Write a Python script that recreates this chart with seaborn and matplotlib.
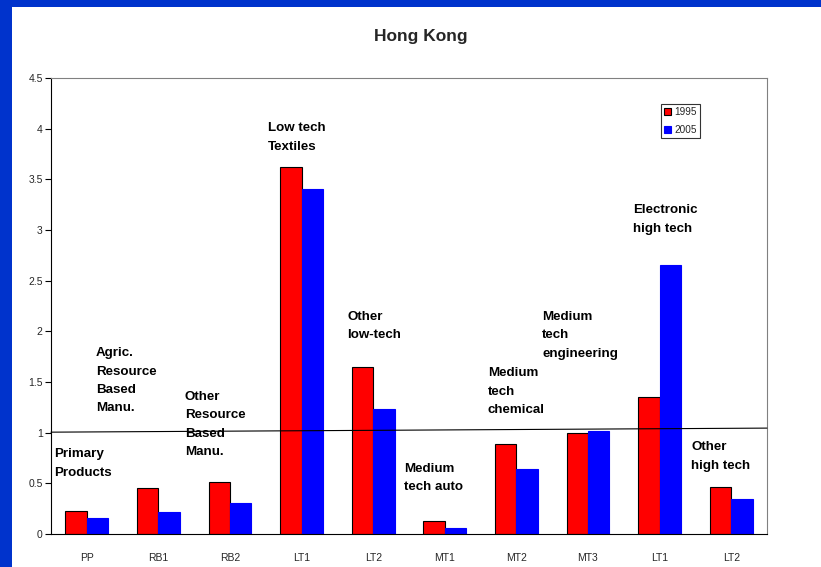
import matplotlib
matplotlib.use("Agg")
import matplotlib.pyplot as plt
from matplotlib.patches import Rectangle, Patch
import numpy as np
import pandas as pd
import seaborn as sns

# Category codes along the x axis (two codes repeat on purpose)
categories = ["PP", "RB1", "RB2", "LT1", "LT2", "MT1", "MT2", "MT3", "LT1", "LT2"]
values_1995 = [0.23, 0.45, 0.51, 3.62, 1.65, 0.13, 0.89, 1.00, 1.35, 0.46]
values_2005 = [0.16, 0.22, 0.31, 3.40, 1.23, 0.06, 0.64, 1.02, 2.65, 0.35]
years = ["1995", "2005"]
ytick_values = [0, 0.5, 1, 1.5, 2, 2.5, 3, 3.5, 4, 4.5]
ytick_labels = ["0", "0.5", "1", "1.5", "2", "2.5", "3", "3.5", "4", "4.5"]

# Group descriptions written over the bars
notes = [
    ("Primary\nProducts", -0.46, 0.845),
    ("Agric.\nResource\nBased\nManu.", 0.13, 1.845),
    ("Other\nResource\nBased\nManu.", 1.37, 1.415),
    ("Low tech\nTextiles", 2.53, 4.065),
    ("Other\nlow-tech", 3.64, 2.205),
    ("Medium\ntech auto", 4.43, 0.705),
    ("Medium\ntech\nchemical", 5.6, 1.645),
    ("Medium\ntech\nengineering", 6.36, 2.205),
    ("Electronic\nhigh tech", 7.63, 3.255),
    ("Other\nhigh tech", 8.44, 0.915),
]
ref_line_x = [-0.5, 9.5]
ref_line_y = [1.005, 1.045]

df = pd.DataFrame({
    "pos": list(range(len(categories))) * 2,
    "value": values_1995 + values_2005,
    "year": [years[0]] * len(categories) + [years[1]] * len(categories),
})

sns.set_style("white")
plt.rcParams["font.family"] = ["Liberation Sans", "DejaVu Sans"]

fig = plt.figure(figsize=(8.21, 5.67), dpi=100)
fig.patch.set_facecolor("#0033CC")
# white slide panel
fig.add_artist(Rectangle((12 / 821, 0), 1, 1 - 7 / 567, transform=fig.transFigure,
                         facecolor="white", edgecolor="none", zorder=0))

ax = fig.add_axes([51 / 821, 33 / 567, (767 - 51) / 821, (534 - 78) / 567])
ax.set_facecolor("white")

sns.barplot(data=df, x="pos", y="value", hue="year", palette=["#FF0000", "#0000FF"],
            width=0.6, saturation=1, gap=0, ax=ax, legend=False)

for cont, ec in zip(ax.containers, ["black", "#0000FF"]):
    for bar in cont:
        bar.set_edgecolor(ec)
        bar.set_linewidth(0.8)

ax.set_xlim(-0.5, 9.5)
ax.set_ylim(0, 4.5)
ax.set_xticks(range(len(categories)))
ax.set_xticklabels(categories, fontsize=7.5)
ax.set_xticks(np.arange(-0.5, 10, 1), minor=True)
ax.tick_params(axis="x", which="major", length=0, pad=14)
ax.tick_params(axis="x", which="minor", length=4, width=0.8, direction="out", color="black")
ax.set_yticks(ytick_values)
ax.set_yticklabels(ytick_labels, fontsize=7.5)
ax.tick_params(axis="y", length=4, width=0.8, direction="out", color="black", pad=2, left=True)
ax.set_xlabel("")
ax.set_ylabel("")

for side in ["top", "right"]:
    ax.spines[side].set_color("#808080")
    ax.spines[side].set_linewidth(0.8)
for side in ["left", "bottom"]:
    ax.spines[side].set_color("black")
    ax.spines[side].set_linewidth(0.8)

ax.plot(ref_line_x, ref_line_y, color="black", lw=0.8, zorder=5, clip_on=False)

for txt, x, y in notes:
    ax.text(x, y, txt, fontsize=9.6, fontweight="bold", ha="left", va="top",
            linespacing=1.72, color="black")

handles = [Patch(facecolor="#FF0000", edgecolor="black", lw=0.8),
           Patch(facecolor="#0000FF", edgecolor="#0000FF", lw=0.8)]
leg = ax.legend(handles, years, loc="upper left", bbox_to_anchor=(0.8515, 0.943),
                fontsize=7.2, frameon=True, fancybox=False, handlelength=0.7,
                handleheight=0.7, handletextpad=0.3, borderpad=0.35,
                labelspacing=0.75, borderaxespad=0)
leg.get_frame().set_edgecolor("black")
leg.get_frame().set_linewidth(0.8)

fig.text(421 / 821, 1 - 36 / 567, "Hong Kong", ha="center", va="center",
         fontsize=12.5, fontweight="bold")

fig.savefig("out.png", dpi=100, facecolor=fig.get_facecolor())
